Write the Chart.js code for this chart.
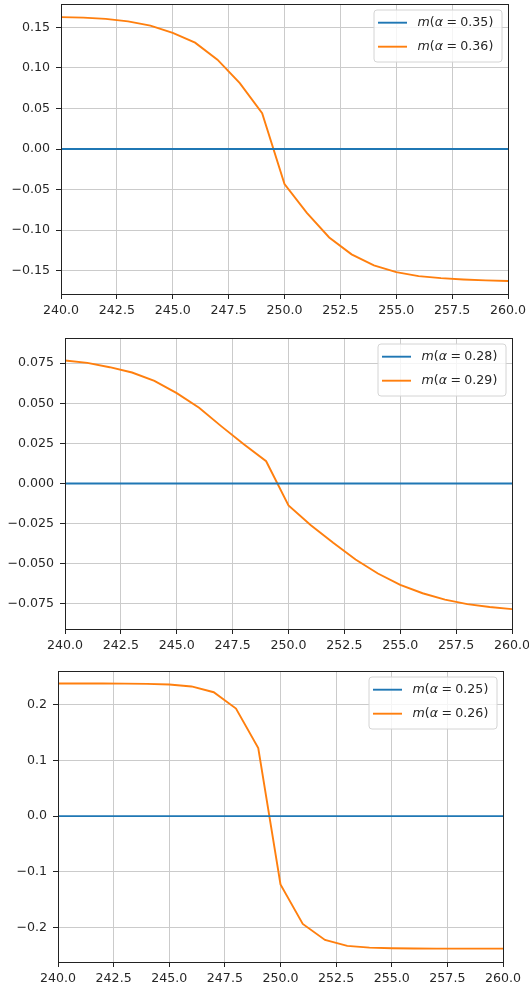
<!DOCTYPE html>
<html>
<head>
<meta charset="utf-8">
<script src="https://cdn.jsdelivr.net/npm/chart.js@4/dist/chart.umd.min.js"></script>
<style>
  html, body { margin: 0; padding: 0; background: #fff; }
  body { width: 529px; height: 992px; position: relative; overflow: hidden; }
  .panel { position: absolute; left: 0; width: 529px; }
  canvas { display: block; }
</style>
</head>
<body>
<div class="panel" style="top:0px;height:325px"><canvas id="c1" width="529" height="325"></canvas></div>
<div class="panel" style="top:325px;height:330px"><canvas id="c2" width="529" height="330"></canvas></div>
<div class="panel" style="top:655px;height:337px"><canvas id="c3" width="529" height="337"></canvas></div>
<script>
// ---- data ----
const xs = [240, 241, 242, 243, 244, 245, 246, 247, 248, 249, 250, 251, 252, 253, 254, 255, 256, 257, 258, 259, 260];
const xTicks = [240, 242.5, 245, 247.5, 250, 252.5, 255, 257.5, 260];

const labels1 = ["m(α = 0.35)", "m(α = 0.36)"];
const blue1 = [0, 0, 0, 0, 0, 0, 0, 0, 0, 0, 0, 0, 0, 0, 0, 0, 0, 0, 0, 0, 0];
const orange1 = [0.1624, 0.1618, 0.1603, 0.1572, 0.1520, 0.1430, 0.1310, 0.1100, 0.0812, 0.0441, -0.0433, -0.0787, -0.1090, -0.1298, -0.1434, -0.1517, -0.1566, -0.1590, -0.1607, -0.1618, -0.1625];
const yTicks1 = [-0.15, -0.10, -0.05, 0.00, 0.05, 0.10, 0.15];

const labels2 = ["m(α = 0.28)", "m(α = 0.29)"];
const blue2 = [0, 0, 0, 0, 0, 0, 0, 0, 0, 0, 0, 0, 0, 0, 0, 0, 0, 0, 0, 0, 0];
const orange2 = [0.0767, 0.0752, 0.0725, 0.0692, 0.0640, 0.0563, 0.0472, 0.0356, 0.0245, 0.0139, -0.0137, -0.0260, -0.0370, -0.0474, -0.0561, -0.0632, -0.0684, -0.0724, -0.0752, -0.0770, -0.0783];
const yTicks2 = [-0.075, -0.050, -0.025, 0.000, 0.025, 0.050, 0.075];

const labels3 = ["m(α = 0.25)", "m(α = 0.26)"];
const blue3 = [0, 0, 0, 0, 0, 0, 0, 0, 0, 0, 0, 0, 0, 0, 0, 0, 0, 0, 0, 0, 0];
const orange3 = [0.2384, 0.2384, 0.2384, 0.2383, 0.2378, 0.2366, 0.2332, 0.2228, 0.1934, 0.1225, -0.1231, -0.1940, -0.2228, -0.2334, -0.2366, -0.2378, -0.2382, -0.2384, -0.2384, -0.2384, -0.2384];
const yTicks3 = [-0.2, -0.1, 0.0, 0.1, 0.2];

// ---- styling ----
const BLUE = '#1f77b4', ORANGE = '#ff7f0e';
const FONT_FAMILY = '"DejaVu Sans", sans-serif';
const FS = 12.6;
const TXT = '#262626';
const GRID = '#cbcbcb';

function fmtMinus(s) { return s.replace('-', '\u2212'); }

const framePlugin = {
  id: 'frameAndLegend',
  afterDatasetsDraw(chart) {
    const ctx = chart.ctx, ca = chart.chartArea;
    ctx.save();
    // spines
    ctx.strokeStyle = '#222';
    ctx.lineWidth = 1;
    const l = Math.round(ca.left), t = Math.round(ca.top), rr = Math.round(ca.right), b = Math.round(ca.bottom);
    ctx.strokeRect(l + 0.5, t + 0.5, rr - l, b - t);
    // legend
    const bw = 128, bh = 52;
    const bx = ca.right - 6 - bw, by = ca.top + 6;
    const r = 3;
    ctx.beginPath();
    ctx.moveTo(bx + r, by);
    ctx.lineTo(bx + bw - r, by);
    ctx.quadraticCurveTo(bx + bw, by, bx + bw, by + r);
    ctx.lineTo(bx + bw, by + bh - r);
    ctx.quadraticCurveTo(bx + bw, by + bh, bx + bw - r, by + bh);
    ctx.lineTo(bx + r, by + bh);
    ctx.quadraticCurveTo(bx, by + bh, bx, by + bh - r);
    ctx.lineTo(bx, by + r);
    ctx.quadraticCurveTo(bx, by, bx + r, by);
    ctx.closePath();
    ctx.fillStyle = 'rgba(255,255,255,0.8)';
    ctx.fill();
    ctx.strokeStyle = '#d4d4d4';
    ctx.lineWidth = 1;
    ctx.stroke();
    chart.data.datasets.forEach((ds, i) => {
      const y = by + 12.7 + i * 24;
      ctx.beginPath();
      ctx.strokeStyle = ds.borderColor;
      ctx.lineWidth = 1.9;
      ctx.moveTo(bx + 4, y);
      ctx.lineTo(bx + 33, y);
      ctx.stroke();
      drawMath(ctx, ds.label, bx + 43.5, y + 0.5);
    });
    ctx.restore();
  }
};

function drawMath(ctx, str, x, y) {
  ctx.textBaseline = 'middle';
  ctx.textAlign = 'left';
  ctx.fillStyle = TXT;
  let cx = x;
  for (const ch of str) {
    if (ch === ' ') { cx += 3.4; continue; }
    const italic = /[a-zA-Z\u03b1]/.test(ch);
    ctx.font = (italic ? 'italic ' : '') + FS + 'px ' + FONT_FAMILY;
    ctx.fillText(ch, cx, y);
    cx += ctx.measureText(ch).width;
  }
}

function makeChart(id, labels, blue, orange, yTicks, yMin, yMax, decimals, geom) {
  const ctx = document.getElementById(id).getContext('2d');
  return new Chart(ctx, {
    type: 'line',
    data: {
      datasets: [
        { label: labels[0], data: xs.map((x, i) => ({ x: x, y: blue[i] })),
          borderColor: BLUE, backgroundColor: BLUE, borderWidth: 1.9, pointRadius: 0, tension: 0, fill: false },
        { label: labels[1], data: xs.map((x, i) => ({ x: x, y: orange[i] })),
          borderColor: ORANGE, backgroundColor: ORANGE, borderWidth: 1.9, pointRadius: 0, tension: 0, fill: false }
      ]
    },
    options: {
      responsive: false,
      maintainAspectRatio: false,
      animation: false,
      events: [],
      layout: { autoPadding: false, padding: { top: geom.top, right: geom.right, left: 0, bottom: 0 } },
      plugins: { legend: { display: false }, tooltip: { enabled: false } },
      scales: {
        x: {
          type: 'linear', min: 240, max: 260,
          afterBuildTicks: (s) => { s.ticks = xTicks.map(v => ({ value: v })); },
          afterFit: (s) => { s.height = geom.xh; s.paddingLeft = 0; s.paddingRight = 0; s.paddingTop = 0; s.paddingBottom = 0; },
          grid: { color: GRID, lineWidth: 1, tickLength: 5, tickColor: '#222', tickWidth: 1 },
          border: { display: false },
          ticks: { autoSkip: false, maxRotation: 0, minRotation: 0, padding: 4, color: TXT,
                   font: { family: FONT_FAMILY, size: FS },
                   callback: (v) => Number(v).toFixed(1) }
        },
        y: {
          type: 'linear', min: yMin, max: yMax,
          afterBuildTicks: (s) => { s.ticks = yTicks.map(v => ({ value: v })); },
          afterFit: (s) => { s.width = geom.yw; s.paddingLeft = 0; s.paddingRight = 0; s.paddingTop = 0; s.paddingBottom = 0; },
          grid: { color: GRID, lineWidth: 1, tickLength: 5, tickColor: '#222', tickWidth: 1 },
          border: { display: false },
          ticks: { autoSkip: false, padding: 6, color: TXT,
                   font: { family: FONT_FAMILY, size: FS },
                   callback: (v) => fmtMinus(Number(v).toFixed(decimals)) }
        }
      }
    },
    plugins: [framePlugin]
  });
}

makeChart('c1', labels1, blue1, orange1, yTicks1, -0.1786, 0.1786, 2, { top: 4, right: 21, yw: 61, xh: 31 });
makeChart('c2', labels2, blue2, orange2, yTicks2, -0.0907, 0.0907, 3, { top: 13, right: 17, yw: 65, xh: 26 });
makeChart('c3', labels3, blue3, orange3, yTicks3, -0.2625, 0.2610, 1, { top: 16, right: 26, yw: 58, xh: 30 });
</script>
</body>
</html>
